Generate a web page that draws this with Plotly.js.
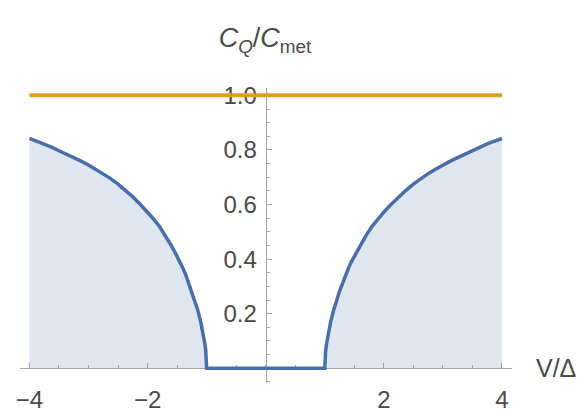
<!DOCTYPE html>
<html>
<head>
<meta charset="utf-8">
<script src="https://cdn.plot.ly/plotly-3.0.1.min.js"></script>
<style>html,body{margin:0;padding:0;background:#fff;}#chart{width:581px;height:413px;}</style>
</head>
<body>
<div id="chart"></div>
<script>
// Blue curve C_Q/C_met vs V/Δ
const vX = [-4, -3.875, -3.75, -3.625, -3.5, -3.375, -3.25, -3.125, -3, -2.875, -2.75, -2.625, -2.5, -2.375, -2.25, -2.125,
            -2, -1.9, -1.8, -1.7, -1.6, -1.5, -1.45, -1.4, -1.35, -1.3, -1.25, -1.2, -1.15, -1.1, -1.07, -1.05, -1.03, -1.015, -1.005, -1,
            1, 1.005, 1.015, 1.03, 1.05, 1.07, 1.1, 1.15, 1.2, 1.25, 1.3, 1.35, 1.4, 1.45, 1.5, 1.6, 1.7, 1.8, 1.9, 2,
            2.125, 2.25, 2.375, 2.5, 2.625, 2.75, 2.875, 3, 3.125, 3.25, 3.375, 3.5, 3.625, 3.75, 3.875, 4];
const cqY = [0.842, 0.832, 0.822, 0.810, 0.797, 0.785, 0.772, 0.759, 0.745, 0.729, 0.713, 0.695, 0.675, 0.652, 0.628, 0.601,
             0.572, 0.547, 0.52, 0.487, 0.45, 0.41, 0.39, 0.366, 0.34, 0.31, 0.282, 0.25, 0.213, 0.17, 0.14, 0.115, 0.09, 0.063, 0.035, 0,
             0, 0.035, 0.063, 0.09, 0.115, 0.14, 0.17, 0.213, 0.25, 0.282, 0.31, 0.34, 0.366, 0.39, 0.41, 0.45, 0.487, 0.52, 0.547, 0.572,
             0.601, 0.628, 0.652, 0.675, 0.695, 0.713, 0.729, 0.745, 0.759, 0.772, 0.785, 0.797, 0.810, 0.822, 0.832, 0.842];
// Orange metallic reference line
const metX = [-4, 4];
const metY = [1, 1];
// Tick labels
const xTicks = [-4, -2, 2, 4];
const yTicks = [0.2, 0.4, 0.6, 0.8, 1.0];

const xRange = [-4.16, 4.17];
const yRange = [-0.054, 1.027];
const fontFam = 'Liberation Sans, Arial, sans-serif';
const txtCol = '#4a4a4a';
const axCol = '#a6a6a6';

const traces = [
  {x: vX, y: cqY, type: 'scatter', mode: 'lines', fill: 'tozeroy',
   fillcolor: 'rgba(94,129,181,0.2)', line: {color: '#4a6ea8', width: 3.5}, hoverinfo: 'skip'},
  {x: metX, y: metY, type: 'scatter', mode: 'lines', line: {color: '#e09c24', width: 4}, hoverinfo: 'skip'}
];

const layout = {
  width: 581, height: 413,
  margin: {l: 20, r: 69, t: 88, b: 30},
  paper_bgcolor: '#fff', plot_bgcolor: '#fff',
  showlegend: false,
  font: {family: fontFam, size: 24, color: txtCol},
  title: {text: '<i>C</i><sub><i>Q</i></sub>/<i>C</i><sub>met</sub>', x: 265/581, xanchor: 'center',
          y: 1 - 38/413, yanchor: 'middle', font: {family: fontFam, size: 27, color: txtCol}},
  xaxis: {range: xRange, anchor: 'free', position: (0 - yRange[0]) / (yRange[1] - yRange[0]),
          showgrid: false, zeroline: false, showline: true, linecolor: axCol, linewidth: 1,
          tickmode: 'array', tickvals: xTicks, ticktext: xTicks.map(v => v < 0 ? '\u2212' + Math.abs(v) : String(v)),
          ticks: 'inside', ticklen: 5, tickcolor: axCol, ticklabelstandoff: 10,
          minor: {tickmode: 'linear', tick0: 0, dtick: 0.5, ticks: 'inside', ticklen: 3, tickcolor: axCol},
          tickfont: {family: fontFam, size: 24, color: txtCol}, layer: 'below traces', fixedrange: true},
  yaxis: {range: yRange, anchor: 'free', position: (0 - xRange[0]) / (xRange[1] - xRange[0]),
          showgrid: false, zeroline: false, showline: true, linecolor: axCol, linewidth: 1,
          tickmode: 'array', tickvals: yTicks, tickformat: '.1f',
          ticks: 'inside', ticklen: 5, tickcolor: axCol, ticklabelstandoff: 4,
          minor: {tickmode: 'linear', tick0: 0, dtick: 0.05, ticks: 'inside', ticklen: 3, tickcolor: axCol},
          tickfont: {family: fontFam, size: 24, color: txtCol}, layer: 'below traces', fixedrange: true},
  annotations: [
    {text: 'V/\u0394', xref: 'paper', yref: 'paper', x: (534 - 20) / 492, y: (0 - yRange[0]) / (yRange[1] - yRange[0]),
     xanchor: 'left', yanchor: 'middle', showarrow: false, font: {family: fontFam, size: 25, color: txtCol}}
  ]
};

Plotly.newPlot('chart', traces, layout, {staticPlot: true, displayModeBar: false});
</script>
</body>
</html>
